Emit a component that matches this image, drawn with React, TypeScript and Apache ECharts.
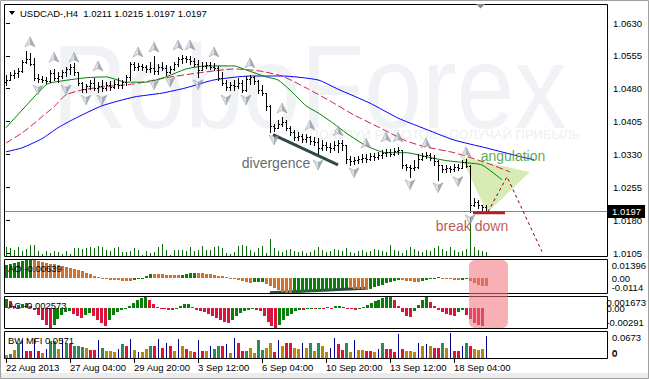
import React, { useEffect, useRef } from 'react';
import * as echarts from 'echarts';

// ---------- data ----------
const dateTickIndex = [0, 16, 32, 48, 64, 80, 96, 112];
const dateTickLabels = ['22 Aug 2013', '27 Aug 04:00', '29 Aug 20:00', '3 Sep 12:00', '6 Sep 04:00', '10 Sep 20:00', '13 Sep 12:00', '18 Sep 04:00'];
const priceTicks = [1.0105, 1.018, 1.0255, 1.033, 1.0405, 1.048, 1.0555, 1.063];
const lastPrice = 1.0197;
const headerText = 'USDCAD-,H4  1.0211 1.0215 1.0197 1.0197';
const firstOpen = 1.0495;

const highs = [
  1.0511, 1.0518, 1.0523, 1.0527, 1.0546, 1.0566, 1.0561, 1.0550, 1.0514, 1.0509,
  1.0507, 1.0523, 1.0525, 1.0518, 1.0523, 1.0530, 1.0536, 1.0539, 1.0518, 1.0495,
  1.0491, 1.0500, 1.0505, 1.0495, 1.0500, 1.0495, 1.0498, 1.0500, 1.0505, 1.0500,
  1.0511, 1.0541, 1.0541, 1.0539, 1.0536, 1.0534, 1.0541, 1.0555, 1.0536, 1.0541,
  1.0534, 1.0532, 1.0541, 1.0552, 1.0557, 1.0555, 1.0555, 1.0550, 1.0546, 1.0541,
  1.0541, 1.0541, 1.0539, 1.0532, 1.0518, 1.0500, 1.0495, 1.0500, 1.0505, 1.0500,
  1.0509, 1.0511, 1.0509, 1.0500, 1.0489, 1.0470, 1.0443, 1.0400, 1.0409, 1.0416,
  1.0409, 1.0395, 1.0386, 1.0382, 1.0377, 1.0377, 1.0372, 1.0370, 1.0368, 1.0363,
  1.0359, 1.0356, 1.0361, 1.0363, 1.0363, 1.0352, 1.0327, 1.0324, 1.0327, 1.0331,
  1.0331, 1.0334, 1.0334, 1.0336, 1.0340, 1.0343, 1.0343, 1.0345, 1.0347, 1.0340,
  1.0309, 1.0306, 1.0318, 1.0331, 1.0334, 1.0336, 1.0334, 1.0329, 1.0318, 1.0306,
  1.0306, 1.0304, 1.0309, 1.0309, 1.0318, 1.0320, 1.0306, 1.0231, 1.0226, 1.0215,
  1.0215,
];
const lows = [
  1.0489, 1.0500, 1.0505, 1.0507, 1.0518, 1.0538, 1.0534, 1.0500, 1.0495, 1.0495,
  1.0493, 1.0496, 1.0500, 1.0495, 1.0505, 1.0509, 1.0514, 1.0511, 1.0489, 1.0473,
  1.0473, 1.0480, 1.0477, 1.0473, 1.0475, 1.0477, 1.0477, 1.0482, 1.0482, 1.0482,
  1.0489, 1.0500, 1.0523, 1.0523, 1.0523, 1.0518, 1.0518, 1.0514, 1.0514, 1.0523,
  1.0511, 1.0516, 1.0523, 1.0532, 1.0539, 1.0541, 1.0536, 1.0532, 1.0507, 1.0523,
  1.0527, 1.0525, 1.0523, 1.0500, 1.0489, 1.0477, 1.0477, 1.0477, 1.0482, 1.0473,
  1.0475, 1.0491, 1.0491, 1.0470, 1.0466, 1.0432, 1.0382, 1.0384, 1.0391, 1.0395,
  1.0386, 1.0375, 1.0363, 1.0363, 1.0359, 1.0359, 1.0354, 1.0352, 1.0327, 1.0340,
  1.0340, 1.0336, 1.0340, 1.0336, 1.0340, 1.0311, 1.0306, 1.0309, 1.0311, 1.0313,
  1.0313, 1.0318, 1.0318, 1.0320, 1.0322, 1.0327, 1.0327, 1.0329, 1.0331, 1.0299,
  1.0295, 1.0279, 1.0295, 1.0300, 1.0318, 1.0322, 1.0318, 1.0306, 1.0272, 1.0290,
  1.0290, 1.0290, 1.0293, 1.0295, 1.0299, 1.0302, 1.0199, 1.0213, 1.0208, 1.0199,
  1.0197,
];
const closes = [
  1.0500, 1.0511, 1.0516, 1.0520, 1.0540, 1.0548, 1.0536, 1.0505, 1.0502, 1.0500,
  1.0498, 1.0516, 1.0505, 1.0509, 1.0518, 1.0525, 1.0530, 1.0518, 1.0493, 1.0480,
  1.0486, 1.0493, 1.0482, 1.0486, 1.0482, 1.0489, 1.0484, 1.0491, 1.0489, 1.0495,
  1.0507, 1.0536, 1.0530, 1.0532, 1.0530, 1.0525, 1.0527, 1.0520, 1.0530, 1.0527,
  1.0518, 1.0525, 1.0536, 1.0548, 1.0550, 1.0548, 1.0543, 1.0536, 1.0523, 1.0532,
  1.0534, 1.0530, 1.0527, 1.0505, 1.0493, 1.0484, 1.0489, 1.0486, 1.0493, 1.0477,
  1.0502, 1.0507, 1.0498, 1.0477, 1.0470, 1.0440, 1.0395, 1.0391, 1.0400, 1.0405,
  1.0391, 1.0382, 1.0370, 1.0372, 1.0366, 1.0370, 1.0361, 1.0359, 1.0345, 1.0352,
  1.0347, 1.0345, 1.0352, 1.0356, 1.0352, 1.0320, 1.0315, 1.0318, 1.0320, 1.0322,
  1.0320, 1.0327, 1.0324, 1.0329, 1.0334, 1.0336, 1.0331, 1.0338, 1.0340, 1.0306,
  1.0302, 1.0299, 1.0302, 1.0320, 1.0327, 1.0329, 1.0322, 1.0315, 1.0306, 1.0297,
  1.0299, 1.0297, 1.0302, 1.0299, 1.0313, 1.0304, 1.0215, 1.0222, 1.0215, 1.0211,
  1.0197,
];
const volumes = [
  2500, 2200, 1700, 2500, 1500, 2000, 3000, 3000, 1500, 800,
  1500, 1000, 1500, 1200, 800, 1500, 800, 2200, 2200, 2000,
  2200, 2500, 2200, 2700, 2500, 1700, 1500, 2200, 2500, 1200,
  1200, 1500, 2200, 1700, 600, 1500, 1000, 1200, 2500, 3200,
  1700, 600, 1700, 1700, 1700, 1500, 2500, 1500, 1700, 2700,
  1700, 1700, 2500, 2700, 2200, 1000, 800, 1200, 2700, 3000,
  2700, 1700, 1200, 2200, 2700, 1000, 4500, 2200, 1500, 1200,
  1700, 2000, 1500, 1200, 1500, 1000, 1200, 1700, 2500, 1700,
  1200, 1500, 2000, 1700, 1500, 2200, 1200, 1000, 1500, 1700,
  1200, 1500, 2000, 1700, 1500, 1200, 3000, 1700, 1500, 1000,
  1700, 2500, 2000, 1500, 1200, 1700, 1500, 2200, 2700, 2000,
  1500, 2500, 1700, 1200, 1500, 2000, 10000, 2500, 1700, 1500,
  1200,
];
const maFast = [
  [0, 1.0391], [5, 1.0441], [10, 1.0489], [12, 1.0495], [20, 1.0505], [25, 1.0507], [30, 1.0495],
  [35, 1.0495], [40, 1.0507], [45, 1.0525], [50, 1.0532], [57, 1.0532], [60, 1.0523], [65, 1.0507],
  [68, 1.05], [71, 1.0477], [75, 1.0441], [78, 1.0425], [82, 1.04], [85, 1.0379], [90, 1.035],
  [95, 1.0334], [100, 1.0334], [105, 1.0325], [110, 1.0316], [115, 1.0311], [119, 1.0306], [124, 1.0272],
];
const maMid = [
  [0, 1.0356], [4, 1.0379], [6, 1.0393], [9, 1.0416], [12, 1.0439], [15, 1.0466], [19, 1.0477],
  [24, 1.0484], [32, 1.0491], [40, 1.0505], [48, 1.0516], [57, 1.0525], [63, 1.0521], [69, 1.0509],
  [75, 1.0482], [81, 1.0452], [87, 1.042], [93, 1.0393], [100, 1.0361], [105, 1.0347], [112, 1.0334],
  [120, 1.0311], [126, 1.029],
];
const maSlow = [
  [0, 1.0336], [4, 1.0345], [9, 1.0366], [13, 1.0391], [17, 1.0411], [24, 1.0441], [32, 1.0461],
  [39, 1.047], [45, 1.0482], [52, 1.05], [61, 1.0509], [69, 1.0509], [78, 1.05], [83, 1.0479],
  [91, 1.0447], [98, 1.0413], [104, 1.0391], [112, 1.0363], [120, 1.0345], [129, 1.0324], [132, 1.0318],
];
const fractalUp = [
  [6, 1.0587], [12, 1.0552], [17, 1.0552], [23, 1.0532], [33, 1.0564], [37, 1.0575], [43, 1.058],
  [46, 1.058], [52, 1.0564], [61, 1.0539], [69, 1.0436], [76, 1.0397], [83, 1.0384], [90, 1.0356],
  [95, 1.037], [98, 1.037], [105, 1.0356], [115, 1.0336],
];
const fractalDown = [
  [8, 1.0477], [15, 1.0477], [20, 1.0454], [24, 1.0454], [37, 1.0489], [41, 1.0495], [48, 1.0489],
  [55, 1.0454], [60, 1.0454], [67, 1.0363], [78, 1.0306], [87, 1.0288], [101, 1.0261], [108, 1.0254],
  [113, 1.0268], [116, 1.0181],
];
const aoValues = [
  0.0100, 0.0110, 0.0118, 0.0125, 0.0130, 0.0136, 0.0140, 0.0136, 0.0130, 0.0124,
  0.0118, 0.0112, 0.0106, 0.0099, 0.0092, 0.0085, 0.0077, 0.0069, 0.0061, 0.0052,
  0.0043, 0.0034, 0.0015, 0.0006, -0.0004, -0.0010, -0.0013, -0.0015, -0.0017, -0.0018,
  -0.0019, -0.0020, -0.0012, -0.0005, 0.0005, 0.0015, 0.0035, 0.0032, 0.0030, 0.0029,
  0.0027, 0.0026, 0.0025, 0.0024, 0.0028, 0.0033, 0.0038, 0.0042, 0.0040, 0.0037,
  0.0033, 0.0029, 0.0025, 0.0020, 0.0014, 0.0008, 0.0002, -0.0004, -0.0015, -0.0022,
  -0.0030, -0.0036, -0.0033, -0.0030, -0.0028, -0.0042, -0.0060, -0.0078, -0.0093, -0.0104,
  -0.0112, -0.0114, -0.0113, -0.0111, -0.0109, -0.0107, -0.0105, -0.0102, -0.0099, -0.0096,
  -0.0093, -0.0089, -0.0085, -0.0080, -0.0076, -0.0073, -0.0078, -0.0082, -0.0085, -0.0087,
  -0.0088, -0.0080, -0.0070, -0.0060, -0.0050, -0.0040, -0.0030, -0.0020, -0.0012, -0.0016,
  -0.0020, -0.0024, -0.0026, -0.0027, -0.0020, -0.0012, -0.0005, 0.0002, 0.0006, 0.0003,
  -0.0002, -0.0008, -0.0012, -0.0016, -0.0012, -0.0010, -0.0025, -0.0038, -0.0049, -0.0058,
  -0.00639,
];
const acValues = [
  0.0014, 0.0011, 0.0003, 0.0005, 0.0007, 0.0008, 0.0004, -0.0003, -0.0010, -0.0018,
  -0.0025, -0.0029, -0.0024, -0.0016, -0.0010, -0.0006, -0.0004, -0.0008, -0.0012, -0.0014,
  -0.0010, -0.0007, -0.0012, -0.0018, -0.0022, -0.0026, -0.0018, -0.0010, -0.0006, -0.0003,
  -0.0001, 0.0004, 0.0008, 0.0012, 0.0015, 0.0017, 0.0012, 0.0006, 0.0002, 0.0001,
  -0.0001, -0.0002, -0.0003, 0.0001, 0.0004, 0.0006, 0.0007, 0.0002, -0.0002, -0.0004,
  -0.0006, -0.0009, -0.0012, -0.0015, -0.0018, -0.0020, -0.0021, -0.0017, -0.0012, -0.0007,
  -0.0004, -0.0002, -0.0001, -0.0003, -0.0004, -0.0012, -0.0020, -0.0026, -0.0029, -0.0024,
  -0.0018, -0.0012, -0.0008, -0.0004, -0.0002, -0.0003, -0.0001, 0.0001, -0.0001, 0.0001,
  0.0000, 0.0002, 0.0001, 0.0003, 0.0004, 0.0002, 0.0000, -0.0001, -0.0002, -0.0001,
  0.0002, 0.0005, 0.0008, 0.0011, 0.0013, 0.0015, 0.0016, 0.0017, 0.0012, 0.0003,
  -0.0005, -0.0012, -0.0013, -0.0004, 0.0005, 0.0012, 0.0016, 0.0010, 0.0003, -0.0002,
  -0.0005, -0.0008, -0.0010, -0.0011, -0.0006, -0.0002, -0.0010, -0.0016, -0.0021, -0.0024,
  -0.002573,
];
const mfiValues = [
  0.008, 0.010, 0.022, 0.038, 0.046, 0.019, 0.019, 0.048, 0.019, 0.013,
  0.024, 0.043, 0.043, 0.024, 0.048, 0.038, 0.035, 0.030, 0.030, 0.028,
  0.027, 0.022, 0.022, 0.046, 0.027, 0.019, 0.019, 0.016, 0.024, 0.035,
  0.030, 0.048, 0.022, 0.016, 0.016, 0.024, 0.032, 0.032, 0.048, 0.027,
  0.038, 0.030, 0.019, 0.048, 0.032, 0.024, 0.019, 0.016, 0.046, 0.019,
  0.019, 0.032, 0.024, 0.032, 0.030, 0.035, 0.013, 0.051, 0.040, 0.019,
  0.019, 0.027, 0.013, 0.046, 0.022, 0.027, 0.038, 0.016, 0.046, 0.030,
  0.038, 0.038, 0.027, 0.024, 0.038, 0.027, 0.040, 0.019, 0.040, 0.032,
  0.016, 0.027, 0.051, 0.035, 0.022, 0.038, 0.016, 0.046, 0.022, 0.022,
  0.019, 0.019, 0.016, 0.024, 0.040, 0.024, 0.024, 0.016, 0.062, 0.024,
  0.019, 0.019, 0.016, 0.040, 0.032, 0.035, 0.030, 0.027, 0.027, 0.040,
  0.027, 0.065, 0.019, 0.019, 0.030, 0.040, 0.030, 0.024, 0.022, 0.024,
  0.0571,
];
// g = MFI up/vol up, b = fade, r = squat, n = fake
const mfiCodes =
  'bgbgnrrnrb' + 'nggbngrggg' + 'brrngbbbng' + 'rnbnbbgrnr' + 'nrbnbrbrnr' + 'bnggrnbnrr' +
  'gbbggbbrnb' + 'rrbbnbgbgb' + 'bnnrrgbnbb' + 'rrbngrrrnr' + 'bbbnbnbrrg' + 'bnrrngrbbb' + 'n';
// scale labels of the indicator windows: [top, zero, bottom] values and texts
const aoAxisTicks = [0.01396, 0, -0.0114];
const aoAxisTexts = ['0.01396', '0.00', '-0.0114'];
const acAxisTicks = [0.001673, 0, -0.00291];
const acAxisTexts = ['0.001673', '0.00', '-0.00291'];
const mfiAxisTicks = [0.0673, 0];
const mfiAxisTexts = ['0.0673', '0'];
const aoLabel = 'AO -0.00639';
const acLabel = 'AC -0.002573';
const mfiLabel = 'BW MFI 0.0571';

// annotations (bar index, price)
const divergenceLine = [[66.75, 1.0375], [83, 1.0306]];
const aoDivergenceLine = [[66, -0.0112], [90, -0.0078]];
const angulationTriangle = [[113.75, 1.03245], [131, 1.029], [120.25, 1.0197]];
const breakSegment = [[116.75, 1.0197], [124.75, 1.0197]];
const forecastPath = [[120.5, 1.0199], [125.25, 1.0279], [134, 1.0108]];
const noteTexts = ['divergence', 'angulation', 'break down'];
const notePoints = [[67.5, 1.0311], [126.75, 1.0327], [116.5, 1.0167]];

// ---------- layout / style ----------
const FONT = 'Liberation Sans';
const FS = 9.5;
const X_MIN = -0.5;
const X_MAX = 150.25;
const noteColors = ['#34444d', '#38902a', '#a9322c'];
const mfiPalette: Record<string, string> = { g: '#2e8b57', b: '#b8860b', r: '#dc143c', n: '#00008b' };

function buildOption() {
  const grids = [
    { left: 4, right: 42, top: 4, height: 253 },
    { left: 4, right: 42, top: 259, height: 35 },
    { left: 4, right: 42, top: 296, height: 33 },
    { left: 4, right: 42, top: 331, height: 28 },
    { left: 4, right: 42, top: 358, height: 1 }, // time scale strip
  ];
  const TIME_GRID = 4;
  const xAxes = grids.map((_, g) => ({
    type: 'value',
    gridIndex: g,
    min: X_MIN,
    max: X_MAX,
    show: g === TIME_GRID,
    axisLine: { show: false, onZero: false },
    splitLine: { show: false },
    axisTick: { show: g === TIME_GRID, customValues: dateTickIndex, length: 4, lineStyle: { color: '#000' } },
    axisLabel: {
      show: g === TIME_GRID,
      customValues: dateTickIndex,
      formatter: (v: number) => dateTickLabels[dateTickIndex.indexOf(Math.round(v))] ?? '',
      align: 'left',
      margin: 3,
      fontSize: FS,
      fontFamily: FONT,
      color: '#000',
    },
  }));

  // one y axis per scale label, all sharing the same range in a window;
  // the top label hangs below its level, the bottom one sits above it (as MT4 does)
  const subAxes = (gridIndex: number, min: number, max: number, ticks: number[], texts: string[]) =>
    ticks.map((t, k) => ({
      type: 'value', gridIndex, position: 'right', min, max,
      axisLine: { show: false, onZero: false }, axisTick: { show: false }, splitLine: { show: false },
      axisLabel: {
        customValues: [t],
        showMinLabel: true,
        showMaxLabel: true,
        formatter: () => texts[k],
        verticalAlign: k === 0 ? 'top' : k === ticks.length - 1 ? 'bottom' : 'middle',
        margin: 5,
        fontSize: FS,
        fontFamily: FONT,
        color: '#000',
      },
    }));

  const yAxes: any[] = [
    {
      type: 'value', gridIndex: 0, position: 'right', min: 1.009587, max: 1.067337,
      axisLine: { show: false }, splitLine: { show: false },
      axisTick: { show: true, inside: false, length: 4, customValues: priceTicks, lineStyle: { color: '#000' } },
      axisLabel: { customValues: priceTicks, showMinLabel: true, showMaxLabel: true, formatter: (v: number) => v.toFixed(4), margin: 6, fontSize: FS, fontFamily: FONT, color: '#000' },
    },
    { type: 'value', gridIndex: 0, min: 0, max: 63250, show: false },
  ];
  const aoAxis = yAxes.length;
  yAxes.push(...subAxes(1, -0.012169, 0.014729, aoAxisTicks, aoAxisTexts));
  const acAxis = yAxes.length;
  yAxes.push(...subAxes(2, -0.003058, 0.001821, acAxisTicks, acAxisTexts));
  const mfiAxis = yAxes.length;
  yAxes.push(...subAxes(3, -0.0025885, 0.069889, mfiAxisTicks, mfiAxisTexts));
  yAxes.push({ type: 'value', gridIndex: TIME_GRID, min: 0, max: 1, show: false });

  const ohlc = closes.map((c, i) => [i, i === 0 ? firstOpen : closes[i - 1], highs[i], lows[i], c]);

  const histo = (colorOf: (i: number) => string, widthOf: (i: number) => number) =>
    (params: any, api: any) => {
      const i = api.value(0);
      const v = api.value(1);
      const p0 = api.coord([i, 0]);
      const p1 = api.coord([i, v]);
      const w = widthOf(params.dataIndex);
      const x = Math.round(p0[0]) - Math.floor(w / 2);
      const y0 = Math.round(p0[1]);
      const y1 = Math.round(p1[1]);
      return {
        type: 'rect',
        shape: { x, y: Math.min(y0, y1), width: w, height: Math.max(1, Math.abs(y1 - y0)) },
        style: { fill: colorOf(params.dataIndex) },
      };
    };

  const arrowColor = new echarts.graphic.LinearGradient(0, 0, 1, 0, [
    { offset: 0, color: '#d6d9de' }, { offset: 0.5, color: '#d6d9de' },
    { offset: 0.5, color: '#939aa3' }, { offset: 1, color: '#939aa3' },
  ]);

  const series: any[] = [
    {
      type: 'custom', xAxisIndex: 0, yAxisIndex: 1, z: 2, silent: true,
      data: volumes.map((v, i) => [i, v]), encode: { x: 0, y: 1 },
      renderItem: (params: any, api: any) => {
        const p0 = api.coord([api.value(0), 0]);
        const p1 = api.coord([api.value(0), api.value(1)]);
        return { type: 'rect', shape: { x: Math.round(p0[0]), y: Math.round(p1[1]), width: 1, height: Math.round(p0[1]) - Math.round(p1[1]) }, style: { fill: '#0b6b0b' } };
      },
    },
    {
      type: 'custom', xAxisIndex: 0, yAxisIndex: 0, z: 2, silent: true,
      data: [angulationTriangle[0]], encode: { x: 0, y: 1 },
      renderItem: (params: any, api: any) => ({
        type: 'polygon',
        shape: { points: angulationTriangle.map((p) => api.coord(p)) },
        style: { fill: 'rgba(190,222,130,0.6)' },
      }),
    },
    { type: 'line', xAxisIndex: 0, yAxisIndex: 0, z: 3, data: maSlow, symbol: 'none', smooth: 0.2, lineStyle: { color: '#0000ff', width: 1 } },
    { type: 'line', xAxisIndex: 0, yAxisIndex: 0, z: 3, data: maMid, symbol: 'none', smooth: 0.2, lineStyle: { color: '#d01c3c', width: 1, type: [7, 3] } },
    {
      type: 'line', xAxisIndex: 0, yAxisIndex: 0, z: 3, data: maFast, symbol: 'none', smooth: 0.2, lineStyle: { color: '#008000', width: 1 },
      markLine: {
        silent: true, symbol: 'none', animation: false,
        data: [{ yAxis: lastPrice }],
        lineStyle: { color: '#7d8b99', width: 1, type: 'solid' },
        label: { position: 'end', distance: 1, formatter: lastPrice.toFixed(4), backgroundColor: '#000', color: '#fff', fontSize: FS, fontFamily: FONT, padding: [2, 4, 1, 4] },
      },
    },
    {
      type: 'custom', xAxisIndex: 0, yAxisIndex: 0, z: 4, silent: true,
      data: ohlc, encode: { x: 0, y: [1, 2, 3, 4] },
      renderItem: (params: any, api: any) => {
        const i = api.value(0);
        const pH = api.coord([i, api.value(2)]);
        const pL = api.coord([i, api.value(3)]);
        const pO = api.coord([i, api.value(1)]);
        const pC = api.coord([i, api.value(4)]);
        const x = Math.round(pH[0]) + 0.5;
        const yo = Math.round(pO[1]) + 0.5;
        const yc = Math.round(pC[1]) + 0.5;
        const style = { stroke: '#000', lineWidth: 1 };
        return {
          type: 'group',
          children: [
            { type: 'line', shape: { x1: x, y1: Math.round(pH[1]), x2: x, y2: Math.round(pL[1]) + 1 }, style },
            { type: 'line', shape: { x1: x - 1.5, y1: yo, x2: x, y2: yo }, style },
            { type: 'line', shape: { x1: x, y1: yc, x2: x + 1.5, y2: yc }, style },
          ],
        };
      },
    },
    {
      type: 'scatter', xAxisIndex: 0, yAxisIndex: 0, z: 5, silent: true, data: fractalUp,
      symbol: 'path://M5,0L10,10L5,7.5L0,10Z', symbolSize: [10, 10],
      itemStyle: { color: arrowColor, borderColor: '#80878f', borderWidth: 0.5 },
    },
    {
      type: 'scatter', xAxisIndex: 0, yAxisIndex: 0, z: 5, silent: true, data: fractalDown,
      symbol: 'path://M0,0L5,2.5L10,0L5,10Z', symbolSize: [10, 10],
      itemStyle: { color: arrowColor, borderColor: '#80878f', borderWidth: 0.5 },
    },
    { type: 'line', xAxisIndex: 0, yAxisIndex: 0, z: 5, data: divergenceLine, symbol: 'none', lineStyle: { color: '#2f4a4a', width: 3 } },
    { type: 'line', xAxisIndex: 0, yAxisIndex: 0, z: 5, data: breakSegment, symbol: 'none', lineStyle: { color: '#b22222', width: 3 } },
    { type: 'line', xAxisIndex: 0, yAxisIndex: 0, z: 5, data: forecastPath, symbol: 'none', lineStyle: { color: '#8b0000', width: 1, type: [3, 3] } },
    {
      type: 'scatter', xAxisIndex: 0, yAxisIndex: 0, z: 6, silent: true, symbolSize: 1,
      itemStyle: { color: 'rgba(0,0,0,0)' },
      data: noteTexts.map((t, k) => ({
        value: notePoints[k],
        label: { show: true, position: 'inside', formatter: t, color: noteColors[k], fontSize: 14, fontFamily: FONT },
      })),
    },
    {
      type: 'custom', xAxisIndex: 1, yAxisIndex: aoAxis, z: 3, silent: true,
      data: aoValues.map((v, i) => [i, v]), encode: { x: 0, y: 1 },
      renderItem: histo((i) => (i === 0 || aoValues[i] > aoValues[i - 1] ? '#0b7d0b' : '#d2722a'), () => 3),
    },
    { type: 'line', xAxisIndex: 1, yAxisIndex: aoAxis, z: 2, data: aoDivergenceLine, symbol: 'none', lineStyle: { color: '#2f4a4a', width: 3 } },
    {
      type: 'custom', xAxisIndex: 2, yAxisIndex: acAxis, z: 3, silent: true,
      data: acValues.map((v, i) => [i, v]), encode: { x: 0, y: 1 },
      renderItem: histo((i) => (i === 0 || acValues[i] > acValues[i - 1] ? '#0b7d0b' : '#dc143c'), () => 3),
    },
    {
      type: 'custom', xAxisIndex: 3, yAxisIndex: mfiAxis, z: 3, silent: true,
      data: mfiValues.map((v, i) => [i, v]), encode: { x: 0, y: 1 },
      renderItem: histo((i) => mfiPalette[mfiCodes[i]], (i) => (mfiCodes[i] === 'n' ? 1 : 3)),
    },
  ];

  const frame = (y1: number, y2: number) => ({
    type: 'rect', z: 50, silent: true,
    shape: { x: 4.5, y: y1 + 0.5, width: 603, height: y2 - y1 },
    style: { fill: 'none', stroke: '#000', lineWidth: 1 },
  });
  const txt = (text: string, x: number, y: number, extra: any = {}) => ({
    type: 'text', x, y, z: 60, silent: true,
    style: { text, fill: '#000', font: `${FS}px "${FONT}"`, textVerticalAlign: 'middle', verticalAlign: 'middle', ...extra },
  });

  const graphic = [
    { type: 'rect', z: 0, silent: true, shape: { x: 0, y: 373, width: 649, height: 6 }, style: { fill: '#ececec' } },
    {
      type: 'text', x: 52, y: 87, scaleY: 1.15, z: 1, silent: true,
      style: { text: 'RoboForex', fill: '#f0f2f6', font: `104px "${FONT}"`, textVerticalAlign: 'middle', verticalAlign: 'middle' },
    },
    {
      type: 'text', x: 580, y: 134, z: 1, silent: true,
      style: { text: 'ИСПОЛЬЗУЙ РОБОТОВ - ПОЛУЧАЙ ПРИБЫЛЬ', fill: '#eceff3', font: `13px "${FONT}"`, textAlign: 'right', align: 'right', textVerticalAlign: 'middle', verticalAlign: 'middle' },
    },
    frame(4, 256),
    frame(259, 293),
    frame(296, 328),
    frame(331, 358),
    { type: 'polygon', z: 60, silent: true, shape: { points: [[9, 11], [15, 11], [12, 15]] }, style: { fill: '#000' } },
    txt(headerText, 20, 13),
    { type: 'polygon', z: 60, silent: true, shape: { points: [[476, 4], [485, 4], [480.5, 8.5]] }, style: { fill: '#7d8a97' } },
    txt(aoLabel, 8, 268),
    txt(acLabel, 8, 305),
    txt(mfiLabel, 8, 340),
    txt(mfiAxisTexts[1], 612, 352),
    {
      type: 'rect', z: 70, silent: true,
      shape: { x: 469, y: 260, width: 39, height: 68, r: 6 },
      style: { fill: 'rgba(238,111,122,0.55)' },
    },
    { type: 'rect', z: 80, silent: true, shape: { x: 0.5, y: 0.5, width: 648, height: 378 }, style: { fill: 'none', stroke: '#a0a0a0', lineWidth: 1 } },
  ];

  return {
    animation: false,
    backgroundColor: '#ffffff',
    textStyle: { fontFamily: FONT },
    grid: grids.map((g) => ({ ...g, show: false })),
    xAxis: xAxes,
    yAxis: yAxes,
    series,
    graphic,
  };
}

export default function App() {
  const ref = useRef<HTMLDivElement>(null);
  useEffect(() => {
    document.body.style.margin = '0';
    const chart = echarts.init(ref.current as HTMLDivElement, null, { renderer: 'svg' });
    chart.setOption(buildOption() as any);
    return () => chart.dispose();
  }, []);
  return <div ref={ref} style={{ width: 649, height: 379 }} />;
}
